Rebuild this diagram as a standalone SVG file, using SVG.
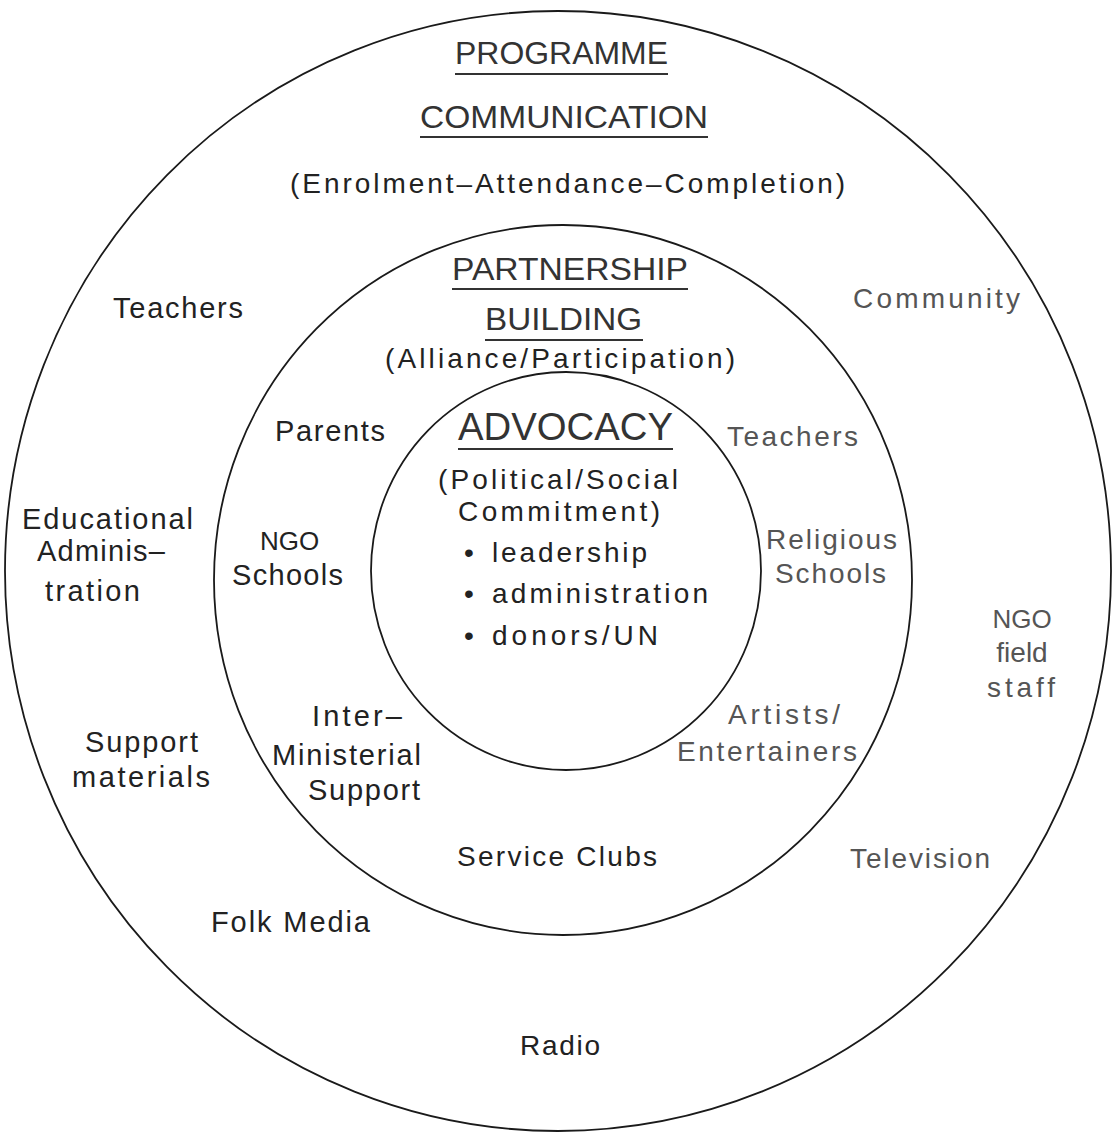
<svg xmlns="http://www.w3.org/2000/svg" width="1113" height="1135" viewBox="0 0 1113 1135">
<style>
.ring{fill:none;stroke:#1a1a1a;stroke-width:1.8}
text{font-family:"Liberation Sans","DejaVu Sans",sans-serif;fill:#222}
.h{font-size:32px;fill:#333}
.h2{font-size:38px;fill:#333}
.s{font-size:28px}
.l{font-size:29px}
.g{fill:#555}
.u{stroke:#333;stroke-width:1.8}
</style>
<rect width="1113" height="1135" fill="#fff"/>
<g id="rings">
<ellipse id="ring-outer" class="ring" cx="558" cy="571" rx="553" ry="560"/>
<ellipse id="ring-middle" class="ring" cx="563" cy="580" rx="349" ry="355"/>
<ellipse id="ring-inner" class="ring" cx="566" cy="571" rx="195" ry="199"/>
</g>
<g id="programme-communication">
<text class="h" x="455" y="64" textLength="213" lengthAdjust="spacingAndGlyphs">PROGRAMME</text>
<line class="u" x1="455" y1="74" x2="668" y2="74"/>
<text class="h" x="420" y="128" textLength="288" lengthAdjust="spacingAndGlyphs">COMMUNICATION</text>
<line class="u" x1="420" y1="137" x2="708" y2="137"/>
<text class="s" x="290" y="193" textLength="555">(Enrolment–Attendance–Completion)</text>
</g>
<g id="partnership-building">
<text class="h" x="452" y="280" textLength="236" lengthAdjust="spacingAndGlyphs">PARTNERSHIP</text>
<line class="u" x1="452" y1="289" x2="688" y2="289"/>
<text class="h" x="485" y="330" textLength="157" lengthAdjust="spacingAndGlyphs">BUILDING</text>
<line class="u" x1="485" y1="340" x2="643" y2="340"/>
<text class="s" x="385" y="368" textLength="350">(Alliance/Participation)</text>
</g>
<g id="advocacy">
<text class="h2" x="458" y="440" textLength="215" lengthAdjust="spacingAndGlyphs">ADVOCACY</text>
<line class="u" x1="458" y1="449" x2="673" y2="449"/>
<text class="s" x="438" y="489" textLength="240">(Political/Social</text>
<text class="s" x="458" y="521" textLength="202">Commitment)</text>
<text class="s" x="464" y="562">•</text>
<text class="s" x="492" y="562" textLength="155">leadership</text>
<text class="s" x="464" y="603">•</text>
<text class="s" x="492" y="603" textLength="216">administration</text>
<text class="s" x="464" y="645">•</text>
<text class="s" x="492" y="645" textLength="166">donors/UN</text>
</g>
<g id="outer-labels">
<text id="teachers-outer" class="l" x="113" y="318" textLength="130">Teachers</text>
<text id="community" class="s g" x="853" y="308" textLength="167">Community</text>
<text id="educational-admin" class="l"><tspan x="22" y="529" textLength="171">Educational</tspan><tspan x="37" y="561" textLength="128">Adminis–</tspan><tspan x="45" y="601" textLength="95">tration</tspan></text>
<text id="ngo-field-staff" class="s g" text-anchor="middle"><tspan x="1022" y="628" font-size="26">NGO</tspan><tspan x="1022" y="662">field</tspan><tspan x="1021" y="697" textLength="68" text-anchor="start" dx="-34">staff</tspan></text>
<text id="support-materials" class="l"><tspan x="85" y="752" textLength="113">Support</tspan><tspan x="72" y="787" textLength="138">materials</tspan></text>
<text id="television" class="s g" x="850" y="868" textLength="140">Television</text>
<text id="folk-media" class="l" x="211" y="932" textLength="159">Folk Media</text>
<text id="radio" class="s" x="520" y="1055" textLength="80">Radio</text>
</g>
<g id="middle-labels">
<text id="parents" class="l" x="275" y="441" textLength="110">Parents</text>
<text id="teachers-middle" class="s g" x="727" y="446" textLength="131">Teachers</text>
<text id="ngo-schools" class="l"><tspan x="260" y="550" font-size="26">NGO</tspan><tspan x="232" y="585" textLength="111">Schools</tspan></text>
<text id="religious-schools" class="s g"><tspan x="766" y="549" textLength="131">Religious</tspan><tspan x="775" y="583" textLength="111">Schools</tspan></text>
<text id="inter-ministerial" class="l"><tspan x="312" y="726" textLength="90">Inter–</tspan><tspan x="272" y="765" textLength="149">Ministerial</tspan><tspan x="308" y="800" textLength="112">Support</tspan></text>
<text id="artists" class="s g"><tspan x="728" y="724" textLength="112">Artists/</tspan><tspan x="677" y="761" textLength="180">Entertainers</tspan></text>
<text id="service-clubs" class="s" x="457" y="866" textLength="200">Service Clubs</text>
</g>
</svg>
